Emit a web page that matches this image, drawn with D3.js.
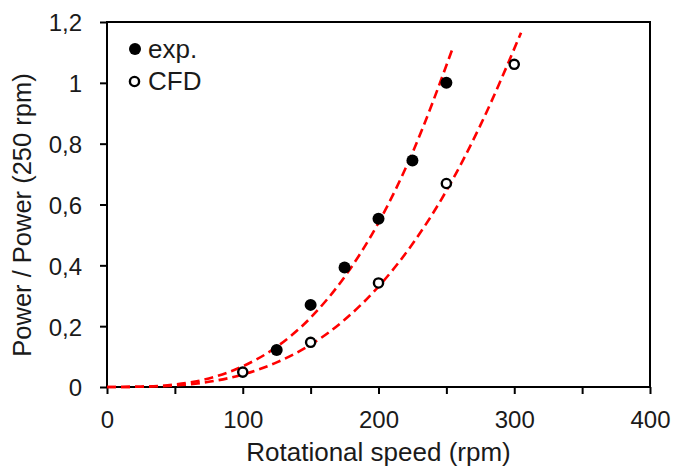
<!DOCTYPE html>
<html>
<head>
<meta charset="utf-8">
<script src="https://cdn.jsdelivr.net/npm/d3@7"></script>
<style>
    html, body { margin: 0; padding: 0; background: #fff; }
    svg { display: block; font-family: 'Liberation Sans', Arial, sans-serif; }
</style>
</head>
<body>
<div id="chart"></div>
<script>
// Points mesurés (exp.) et simulés (CFD)
const expSpeed = [125, 150, 175, 200, 225, 250];
const expPower = [0.122, 0.27, 0.393, 0.553, 0.745, 1.0];
const cfdSpeed = [100, 150, 200, 250, 300];
const cfdPower = [0.049, 0.147, 0.342, 0.669, 1.061];

// Courbes de tendance
const expFitSpeed = [0, 25, 50, 75, 100, 125, 150, 175, 200, 225, 254.5];
const expFitPower = [0, 0.001, 0.008, 0.028, 0.068, 0.132, 0.228, 0.362, 0.54, 0.77, 1.112];
const cfdFitSpeed = [0, 25, 50, 75, 100, 125, 150, 175, 200, 225, 250, 275, 305];
const cfdFitPower = [0, 0.001, 0.005, 0.017, 0.041, 0.081, 0.139, 0.221, 0.33, 0.47, 0.645, 0.86, 1.165];

// Graduations
const xTicks = [0, 50, 100, 150, 200, 250, 300, 350, 400];
const xTickLabels = ['0', '', '100', '', '200', '', '300', '', '400'];
const yTicks = [0, 0.2, 0.4, 0.6, 0.8, 1, 1.2];
const yTickLabels = ['0', '0,2', '0,4', '0,6', '0,8', '1', '1,2'];

const legendLabels = ['exp.', 'CFD'];

function drawChart() {
    const width = 673;
    const height = 466;
    const margin = { top: 22, right: 23, bottom: 79, left: 107 };
    const innerW = width - margin.left - margin.right;
    const innerH = height - margin.top - margin.bottom;

    const svg = d3.select('#chart')
        .append('svg')
        .attr('width', width)
        .attr('height', height);

    const g = svg.append('g')
        .attr('transform', `translate(${margin.left},${margin.top})`);

    const x = d3.scaleLinear().domain([0, 400]).range([0, innerW]);
    const y = d3.scaleLinear().domain([0, 1.2]).range([innerH, 0]);

    // Axe X
    const xAxis = g.append('g')
        .attr('transform', `translate(0,${innerH})`)
        .call(d3.axisBottom(x)
            .tickValues(xTicks)
            .tickSize(7)
            .tickSizeOuter(0)
            .tickFormat((d, i) => xTickLabels[i]));
    xAxis.select('.domain').remove();
    xAxis.selectAll('line').attr('stroke', '#000').attr('stroke-width', 2);
    xAxis.selectAll('text')
        .attr('y', 24)
        .attr('dy', '0.72em')
        .attr('fill', '#1a1a1a')
        .style('font-size', '24px');

    // Axe Y
    const yAxis = g.append('g')
        .call(d3.axisLeft(y)
            .tickValues(yTicks)
            .tickSize(7)
            .tickSizeOuter(0)
            .tickFormat((d, i) => yTickLabels[i]));
    yAxis.select('.domain').remove();
    yAxis.selectAll('line').attr('stroke', '#000').attr('stroke-width', 2);
    yAxis.selectAll('text')
        .attr('x', -25)
        .attr('dy', '0.37em')
        .attr('fill', '#1a1a1a')
        .style('font-size', '24px');

    // Cadre
    g.append('rect')
        .attr('x', 0)
        .attr('y', 0)
        .attr('width', innerW)
        .attr('height', innerH)
        .attr('fill', 'none')
        .attr('stroke', '#000')
        .attr('stroke-width', 2);

    // Courbes pointillées
    const line = d3.line()
        .x(d => x(d[0]))
        .y(d => y(d[1]))
        .curve(d3.curveMonotoneX);

    const fits = [
        d3.zip(expFitSpeed, expFitPower),
        d3.zip(cfdFitSpeed, cfdFitPower)
    ];
    g.selectAll('.fit')
        .data(fits)
        .enter()
        .append('path')
        .attr('class', 'fit')
        .attr('d', line)
        .attr('fill', 'none')
        .attr('stroke', '#ff0000')
        .attr('stroke-width', 2.6)
        .attr('stroke-dasharray', '9,5');

    // Marqueurs
    g.selectAll('.exp')
        .data(d3.zip(expSpeed, expPower))
        .enter()
        .append('circle')
        .attr('class', 'exp')
        .attr('cx', d => x(d[0]))
        .attr('cy', d => y(d[1]))
        .attr('r', 6)
        .attr('fill', '#000');

    g.selectAll('.cfd')
        .data(d3.zip(cfdSpeed, cfdPower))
        .enter()
        .append('circle')
        .attr('class', 'cfd')
        .attr('cx', d => x(d[0]))
        .attr('cy', d => y(d[1]))
        .attr('r', 4.6)
        .attr('fill', '#fff')
        .attr('stroke', '#000')
        .attr('stroke-width', 2.4);

    // Légende
    const legend = svg.append('g');
    legend.append('circle')
        .attr('cx', 135).attr('cy', 49).attr('r', 6).attr('fill', '#000');
    legend.append('circle')
        .attr('cx', 134.5).attr('cy', 81.5).attr('r', 4.6)
        .attr('fill', '#fff').attr('stroke', '#000').attr('stroke-width', 2.4);
    legend.selectAll('text')
        .data(legendLabels)
        .enter()
        .append('text')
        .attr('x', 148)
        .attr('y', (d, i) => 58 + i * 32)
        .attr('fill', '#1a1a1a')
        .style('font-size', '26px')
        .text(d => d);

    // Titres des axes
    svg.append('text')
        .attr('x', margin.left + innerW / 2)
        .attr('y', 461)
        .attr('text-anchor', 'middle')
        .attr('fill', '#1a1a1a')
        .style('font-size', '26px')
        .text('Rotational speed (rpm)');

    svg.append('text')
        .attr('transform', 'translate(31,215) rotate(-90)')
        .attr('text-anchor', 'middle')
        .attr('fill', '#1a1a1a')
        .style('font-size', '25.5px')
        .text('Power / Power (250 rpm)');
}

document.addEventListener('DOMContentLoaded', drawChart);
</script>
</body>
</html>
